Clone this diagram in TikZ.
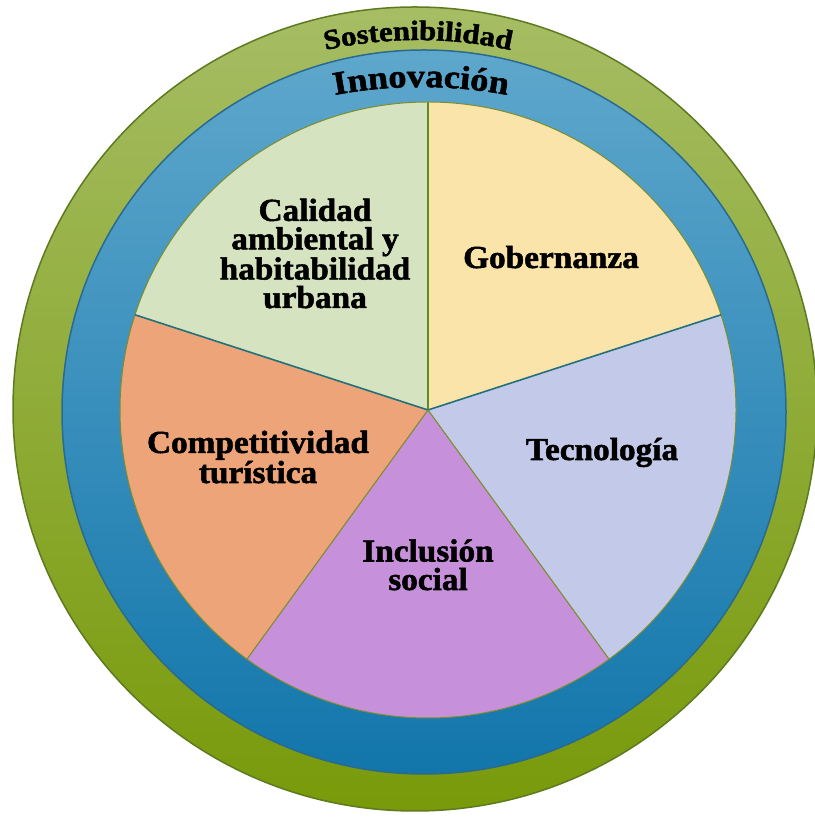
\documentclass[tikz,border=0pt]{standalone}
\usepackage{fontspec}
\setmainfont{Liberation Serif}
\newfontfamily\lblfont[FakeStretch=1.04,FakeBold=1.6]{Liberation Serif}
\newfontfamily\ringfont[FakeStretch=1.1,FakeBold=1.6]{Liberation Serif}
\usetikzlibrary{decorations.text}
\definecolor{grnTop}{HTML}{A6BD64}
\definecolor{grnBot}{HTML}{789A0A}
\definecolor{grnEdge}{HTML}{5E7A20}
\definecolor{bluTop}{HTML}{5EA7CC}
\definecolor{bluBot}{HTML}{1276AB}
\definecolor{bluEdge}{HTML}{2A6A90}
\definecolor{cCal}{HTML}{D5E3C1}
\definecolor{cGob}{HTML}{FAE4A9}
\definecolor{cTec}{HTML}{C3C9E8}
\definecolor{cInc}{HTML}{C790DB}
\definecolor{cCom}{HTML}{EDA478}
\definecolor{lnGreen}{HTML}{5E8C22}
\definecolor{lnTeal}{HTML}{23707A}
\definecolor{lnOlive}{HTML}{7C8E2C}
\begin{document}
\begin{tikzpicture}[x=1pt,y=1pt,
  lbl/.style={font=\lblfont\bfseries\fontsize{32}{28.5}\selectfont, align=center, anchor=base, inner sep=0pt, text=black},
  ringtext/.style={decorate, decoration={text along path, text align=center, text color=black}}]
\useasboundingbox (0,0) rectangle (814,818);
\fill[white] (0,0) rectangle (814,818);
% outer rings
\shade[top color=grnTop, bottom color=grnBot, draw=grnEdge, line width=1.5] (415,409) circle[radius=402];
\shade[top color=bluTop, bottom color=bluBot, draw=bluEdge, line width=1.5] (424,406) circle[radius=362];
% pie
\coordinate (c) at (428,408);
\fill[cGob] (c) -- ++(18:308) arc[start angle=18, end angle=90, radius=308] -- cycle;
\fill[cCal] (c) -- ++(90:308) arc[start angle=90, end angle=162, radius=308] -- cycle;
\fill[cCom] (c) -- ++(162:308) arc[start angle=162, end angle=234, radius=308] -- cycle;
\fill[cInc] (c) -- ++(234:308) arc[start angle=234, end angle=306, radius=308] -- cycle;
\fill[cTec] (c) -- ++(306:308) arc[start angle=306, end angle=378, radius=308] -- cycle;
\draw[lnOlive, line width=1] (c) circle[radius=308];
\draw[lnGreen, line width=1.6] (c) -- ++(90:308);
\draw[lnTeal, line width=1.6] (c) -- ++(162:308);
\draw[lnTeal, line width=1.6] (c) -- ++(18:308);
\draw[lnOlive, line width=1.1] (c) -- ++(234:308);
\draw[lnOlive, line width=1.1] (c) -- ++(306:308);
% ring labels
\path[ringtext, decoration={text={|\ringfont\bfseries\fontsize{28}{28}\selectfont|Sostenibilidad}}]
  ([shift={(120:430)}]418,348) arc[start angle=120, end angle=60, radius=430];
\path[ringtext, decoration={text={|\ringfont\bfseries\fontsize{33}{33}\selectfont|Innovación}}]
  ([shift={(115:470)}]421,261) arc[start angle=115, end angle=65, radius=470];
% sector labels
\node[lbl] (cal) at (315,510) {Calidad\\ambiental y\\habitabilidad\\urbana};
\node[lbl] (gob) at (551,550) {Gobernanza};
\node[lbl] (tec) at (602,358) {Tecnología};
\node[lbl] (com) at (258,335) {Competitividad\\turística};
\node[lbl] (inc) at (428,228) {Inclusión\\social};
\end{tikzpicture}
\end{document}
